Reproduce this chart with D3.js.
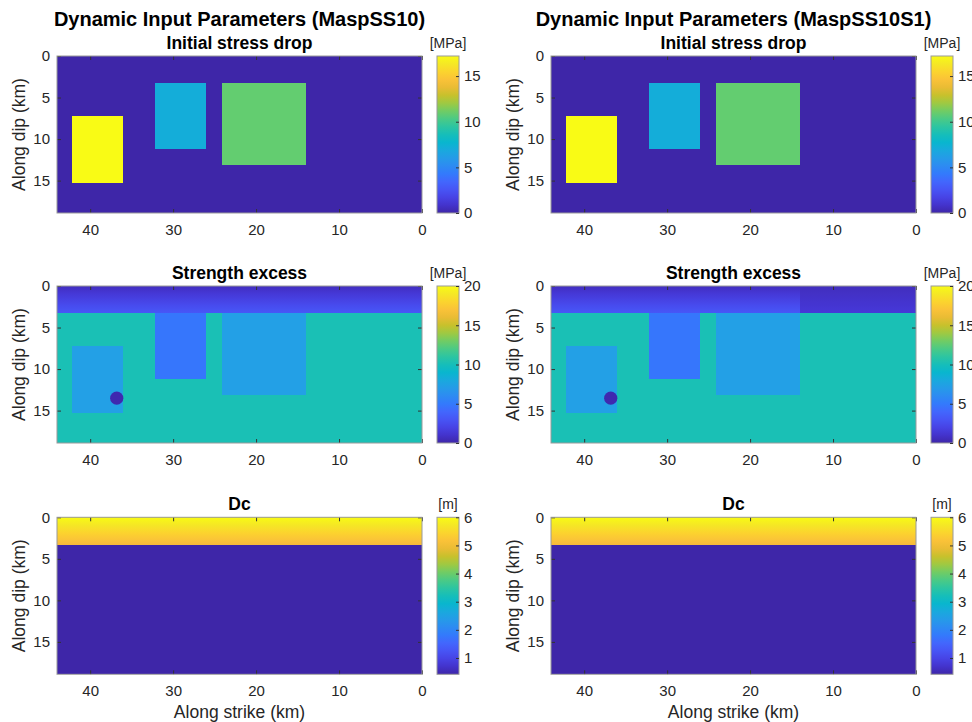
<!DOCTYPE html>
<html>
<head>
<meta charset="utf-8">
<script src="https://cdn.jsdelivr.net/npm/d3@7"></script>
<style>
body { margin: 0; background: #fff; }
svg text { font-family: "Liberation Sans", Arial, Helvetica, sans-serif; }
</style>
</head>
<body>
<div id="chart"></div>
<script>
/******* data */

const models = ["MaspSS10", "MaspSS10S1"];
const panelTitles = ["Initial stress drop", "Strength excess", "Dc"];
const panelUnits = ["[MPa]", "[MPa]", "[m]"];
const strikeTicks = [40, 30, 20, 10, 0];
const dipTicks = [0, 5, 10, 15];
const faultStrike = [0, 44];
const faultDip = [0, 18.9];
const shallowDip = [0, 3.3];

// asperities (km): strike range and dip range
const aspStrike = [[36, 42.2], [26, 32.2], [14, 24.1]];
const aspDip = [[7.2, 15.3], [3.3, 11.2], [3.3, 13.1]];

const stressDropBg = 0;
const stressDropAsp = [17.2, 7.1, 10.9];

const strengthBg = 10.2;
const strengthAsp = [7.3, 4.8, 7.3];
const strengthShallow = [0.6, 3.2];      // top -> bottom of shallow layer
const strengthShallowSplit = 14;         // MaspSS10S1 only
const strengthShallowEast = [0.6, 1.4];
const nucStrike = 36.8, nucDip = 13.5, nucRadius = 0.8, nucValue = 0.2;

const dcDeep = 0.42;
const dcShallow = [6, 5.0];

const climList = [[0, 17.2], [0, 20], [0.42, 6]];
const cticksList = [[0, 5, 10, 15], [0, 5, 10, 15, 20], [1, 2, 3, 4, 5, 6]];

// parula colormap anchors (index out of 64)
const parulaIdx = [1, 5, 9, 13, 17, 21, 25, 29, 33, 37, 41, 45, 49, 53, 57, 61, 64];
const parulaRgb = [
    [0.2422, 0.1504, 0.6603], [0.2706, 0.2147, 0.8364], [0.2813, 0.3006, 0.9414],
    [0.2699, 0.3892, 0.9906], [0.1963, 0.4847, 0.9892], [0.1687, 0.5703, 0.9359],
    [0.1248, 0.6459, 0.8883], [0.0297, 0.7082, 0.8163], [0.0964, 0.7500, 0.7120],
    [0.2161, 0.7843, 0.5923], [0.3909, 0.8029, 0.4354], [0.6174, 0.7876, 0.2612],
    [0.8203, 0.7498, 0.1535], [0.9728, 0.7298, 0.2394], [0.9892, 0.8136, 0.1885],
    [0.9597, 0.9135, 0.1423], [0.9769, 0.9839, 0.0805]
];

/******* layout */

const W = 972, H = 722;
const colLeft = [57, 551];
const rowTop = [56, 286, 517.3];
const plotW = 365, plotH = 157;
const cbarGap = 15, cbarW = 22;

const parula = d3.scaleLinear()
    .domain(parulaIdx.map(i => (i - 1) / 63))
    .range(parulaRgb.map(c => d3.rgb(c[0] * 255, c[1] * 255, c[2] * 255)))
    .interpolate(d3.interpolateRgb)
    .clamp(true);

const svg = d3.select("#chart").append("svg")
    .attr("width", W)
    .attr("height", H);

const defs = svg.append("defs");
let gradId = 0;

function valueGradient(v0, v1, clim) {
    // vertical gradient, top value v0 -> bottom value v1
    const id = "g" + (gradId++);
    const lg = defs.append("linearGradient").attr("id", id)
        .attr("x1", 0).attr("y1", 0).attr("x2", 0).attr("y2", 1);
    d3.range(0, 1.0001, 0.1).forEach(t => {
        const v = v0 + (v1 - v0) * t;
        lg.append("stop").attr("offset", t).attr("stop-color", parula((v - clim[0]) / (clim[1] - clim[0])));
    });
    return "url(#" + id + ")";
}

function buildPatches(panel, model) {
    const asp = vals => aspStrike.map((s, i) => ({ s: s, d: aspDip[i], v: vals[i] }));
    if (panel === 0) {
        return [{ s: faultStrike, d: faultDip, v: stressDropBg }].concat(asp(stressDropAsp));
    }
    if (panel === 1) {
        let p = [{ s: faultStrike, d: faultDip, v: strengthBg }].concat(asp(strengthAsp));
        if (model === 0) {
            p.push({ s: faultStrike, d: shallowDip, g: strengthShallow });
        } else {
            p.push({ s: [strengthShallowSplit, faultStrike[1]], d: shallowDip, g: strengthShallow });
            p.push({ s: [faultStrike[0], strengthShallowSplit], d: shallowDip, g: strengthShallowEast });
        }
        p.push({ circle: true, s: nucStrike, d: nucDip, r: nucRadius, v: nucValue });
        return p;
    }
    return [{ s: faultStrike, d: faultDip, v: dcDeep }, { s: faultStrike, d: shallowDip, g: dcShallow }];
}

const x = d3.scaleLinear().domain([44, 0]).range([0, plotW]);
const y = d3.scaleLinear().domain(faultDip).range([0, plotH]);

function drawPanel(panel, model) {
    const clim = climList[panel];
    const col = v => parula((v - clim[0]) / (clim[1] - clim[0]));
    const g = svg.append("g").attr("transform", `translate(${colLeft[model]},${rowTop[panel]})`);

    const patches = buildPatches(panel, model);
    patches.forEach(p => {
        if (p.circle) {
            g.append("circle")
                .attr("cx", x(p.s))
                .attr("cy", y(p.d))
                .attr("r", x(0) - x(p.r))
                .attr("fill", col(p.v));
            return;
        }
        g.append("rect")
            .attr("x", Math.min(x(p.s[0]), x(p.s[1])))
            .attr("y", y(p.d[0]))
            .attr("width", Math.abs(x(p.s[1]) - x(p.s[0])))
            .attr("height", y(p.d[1]) - y(p.d[0]))
            .attr("shape-rendering", "crispEdges")
            .attr("fill", p.g ? valueGradient(p.g[0], p.g[1], clim) : col(p.v));
    });

    // axes, ticks pointing inward on all four sides
    const styleAxis = a => {
        a.select(".domain").remove();
        a.selectAll("line").attr("stroke", "#333");
        a.selectAll("text").attr("fill", "#262626").style("font-size", "15px");
    };
    g.append("g").attr("transform", `translate(0,${plotH})`)
        .call(d3.axisBottom(x).tickValues(strikeTicks).tickSize(-4).tickPadding(11))
        .call(styleAxis);
    g.append("g")
        .call(d3.axisTop(x).tickValues(strikeTicks).tickSize(-4).tickFormat(""))
        .call(styleAxis);
    g.append("g")
        .call(d3.axisLeft(y).tickValues(dipTicks).tickSize(-4).tickPadding(7))
        .call(styleAxis);
    g.append("g").attr("transform", `translate(${plotW},0)`)
        .call(d3.axisRight(y).tickValues(dipTicks).tickSize(-4).tickFormat(""))
        .call(styleAxis);

    g.append("rect")
        .attr("width", plotW).attr("height", plotH)
        .attr("fill", "none").attr("stroke", "#9a9a9a").attr("stroke-width", 1);

    g.append("text")
        .attr("x", plotW / 2).attr("y", -7)
        .attr("text-anchor", "middle")
        .style("font-size", "17.5px").style("font-weight", "bold")
        .text(panelTitles[panel]);

    g.append("text")
        .attr("transform", `translate(-32,${plotH / 2}) rotate(-90)`)
        .attr("text-anchor", "middle")
        .attr("fill", "#262626")
        .style("font-size", "17.5px")
        .text("Along dip (km)");

    if (panel === 2) {
        g.append("text")
            .attr("x", plotW / 2).attr("y", plotH + 43.7)
            .attr("text-anchor", "middle")
            .attr("fill", "#262626")
            .style("font-size", "17.5px")
            .text("Along strike (km)");
    }

    // colorbar
    const cb = g.append("g").attr("transform", `translate(${plotW + cbarGap},0)`);
    const cid = "cb" + panel + "_" + model;
    const lg = defs.append("linearGradient").attr("id", cid)
        .attr("x1", 0).attr("y1", 1).attr("x2", 0).attr("y2", 0);
    d3.range(0, 1.0001, 0.05).forEach(t => {
        lg.append("stop").attr("offset", t).attr("stop-color", parula(t));
    });
    cb.append("rect")
        .attr("width", cbarW).attr("height", plotH)
        .attr("fill", `url(#${cid})`)
        .attr("stroke", "#9a9a9a").attr("stroke-width", 1);
    const cScale = d3.scaleLinear().domain(clim).range([plotH, 0]);
    cb.append("g").attr("transform", `translate(${cbarW},0)`)
        .call(d3.axisRight(cScale).tickValues(cticksList[panel]).tickFormat(d3.format("d"))
            .tickSize(-3).tickPadding(5))
        .call(styleAxis);
    cb.append("text")
        .attr("x", cbarW / 2).attr("y", -8)
        .attr("text-anchor", "middle")
        .attr("fill", "#262626")
        .style("font-size", "14px")
        .text(panelUnits[panel]);
}

models.forEach((m, mi) => {
    panelTitles.forEach((t, pi) => drawPanel(pi, mi));
    svg.append("text")
        .attr("x", colLeft[mi] + plotW / 2).attr("y", 26)
        .attr("text-anchor", "middle")
        .style("font-size", "20px").style("font-weight", "bold")
        .text(`Dynamic Input Parameters (${m})`);
});
</script>
</body>
</html>
